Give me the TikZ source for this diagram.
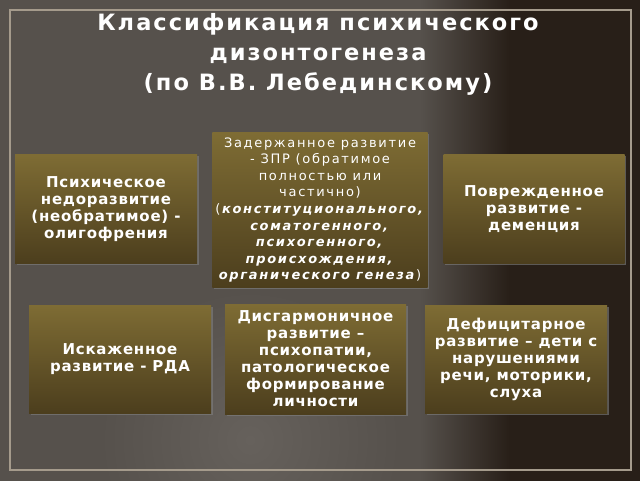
\documentclass[tikz,border=0pt]{standalone}
\usepackage{fontspec}
\setmainfont{DejaVu Sans}
\newfontfamily\titlefont[LetterSpace=9]{DejaVu Sans}
\newfontfamily\boxfont[LetterSpace=5]{DejaVu Sans}
\newfontfamily\widefont[LetterSpace=13]{DejaVu Sans}
\usetikzlibrary{shadows}
\definecolor{bgL}{RGB}{86,81,76}
\definecolor{bgLight}{RGB}{102,97,92}
\definecolor{bgR}{RGB}{40,31,24}
\definecolor{boxT}{RGB}{126,108,52}
\definecolor{boxB}{RGB}{76,62,29}
\definecolor{frameC}{RGB}{165,155,140}
\pgfdeclarehorizontalshading{bgshade}{100bp}{color(0bp)=(bgL); color(57.8bp)=(bgL); color(64.8bp)=(bgR); color(100bp)=(bgR)}
\tikzset{
  box/.style={rectangle, top color=boxT, bottom color=boxB, text=white,
    align=center, inner sep=3pt, font=\boxfont\bfseries\fontsize{15}{17}\selectfont,
    drop shadow={shadow xshift=1.5pt, shadow yshift=-1.5pt, opacity=0.6}},
  titletext/.style={text=white, align=center, font=\titlefont\bfseries\fontsize{22.5}{30}\selectfont}
}
\begin{document}
\begin{tikzpicture}[x=1pt,y=1pt]
\useasboundingbox (0,0) rectangle (640,480);
% background
\shade[shading=bgshade] (0,0) rectangle (640,480);
\shade[inner color=bgLight, outer color=bgL] (250,40) circle (150);
% frame
\draw[frameC, line width=1.5pt] (10,10) rectangle (631,470);
% title
\node[titletext] (title) at (318,426) {Классификация психического\\дизонтогенеза\\(по В.В. Лебединскому)};
% boxes
\node[box, minimum width=182, minimum height=108] (b1) at (106,271)
  {Психическое\\недоразвитие\\(необратимое) -\\олигофрения};
\node[box, minimum width=210, minimum height=154,
  font=\widefont\fontsize{13}{16.6}\selectfont] (b2) at (320,270)
  {Задержанное развитие\\- ЗПР (обратимое\\полностью или\\частично)\\(\textbf{\textit{конституционального,}}\\\textbf{\textit{соматогенного,}}\\\textbf{\textit{психогенного,}}\\\textbf{\textit{происхождения,}}\\\textbf{\textit{органического генеза}})};
\node[box, minimum width=181, minimum height=108] (b3) at (534,271)
  {Поврежденное\\развитие -\\деменция};
\node[box, minimum width=182, minimum height=108] (b4) at (120,121)
  {Искаженное\\развитие - РДА};
\node[box, minimum width=181, minimum height=110] (b5) at (315.5,121)
  {Дисгармоничное\\развитие –\\психопатии,\\патологическое\\формирование\\личности};
\node[box, minimum width=182, minimum height=108] (b6) at (516,121)
  {Дефицитарное\\развитие – дети с\\нарушениями\\речи, моторики,\\слуха};
\end{tikzpicture}
\end{document}
